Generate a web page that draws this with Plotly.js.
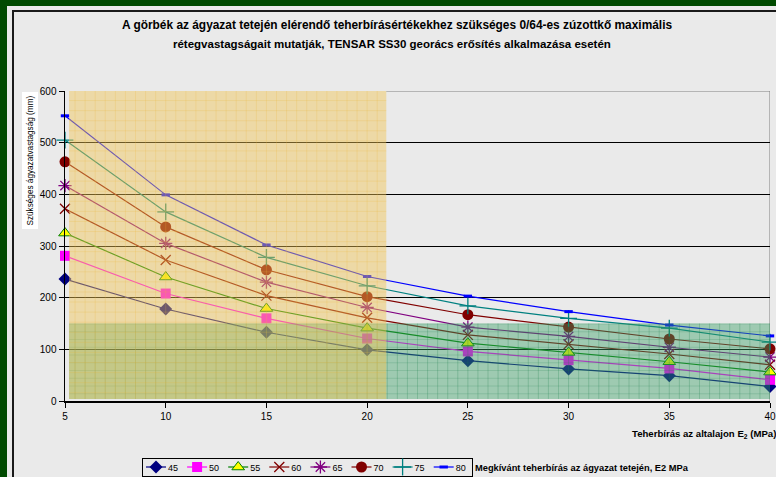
<!DOCTYPE html>
<html>
<head>
<meta charset="utf-8">
<script src="https://cdn.plot.ly/plotly-3.0.1.min.js"></script>
<style>
  html, body { margin:0; padding:0; width:776px; height:477px; overflow:hidden; background:#004a00; }
  #frame { position:absolute; left:7px; top:6px; width:900px; height:600px; background:#eaeaea; }
  #border { position:absolute; left:12px; top:10px; width:900px; height:600px; border:2px solid #1a1a1a; box-sizing:border-box; }
  #chart { position:absolute; left:0; top:0; width:776px; height:477px; }
</style>
</head>
<body>
<div id="frame"></div>
<div id="border"></div>
<div id="chart"></div>
<script>
// ---- data ----
const xValues = [5, 10, 15, 20, 25, 30, 35, 40];
const seriesNames = ['45', '50', '55', '60', '65', '70', '75', '80'];
const s45 = [236, 178, 133, 99, 78, 62, 49, 28];
const s50 = [281, 208, 160, 121, 96, 79, 63, 41];
const s55 = [325, 240, 179, 141, 112, 94, 76, 56];
const s60 = [372, 273, 204, 161, 128, 110, 91, 70];
const s65 = [417, 305, 230, 181, 143, 125, 104, 85];
const s70 = [463, 337, 254, 202, 167, 143, 120, 101];
const s75 = [505, 366, 278, 223, 184, 160, 141, 114];
const s80 = [552, 399, 302, 241, 203, 173, 147, 126];
const yTickVals = [0, 100, 200, 300, 400, 500, 600];

const FONT = 'Arial, "Liberation Sans", sans-serif';

const styles = [
  {line:'#000080', symbol:'diamond', color:'#000080', size:10, lw:0, lc:'#000080'},
  {line:'#ff00ff', symbol:'square', color:'#ff00ff', size:10, lw:0, lc:'#ff00ff'},
  {line:'#008000', symbol:'triangle-up', color:'#ffff00', size:11, lw:1, lc:'#008000'},
  {line:'#800000', symbol:'x-thin', color:'#800000', size:10, lw:1.3, lc:'#800000'},
  {line:'#800080', symbol:'asterisk', color:'#800080', size:11, lw:1.3, lc:'#800080'},
  {line:'#800000', symbol:'circle', color:'#800000', size:11, lw:0, lc:'#800000'},
  {line:'#008080', symbol:'cross-thin', color:'#008080', size:12, lw:1.3, lc:'#008080'},
  {line:'#0000ff', symbol:'line-ew', color:'#0000ff', size:6, lw:3, lc:'#0000ff'}
];
const allSeries = [s45, s50, s55, s60, s65, s70, s75, s80];

const traces = allSeries.map((ys, i) => ({
  type:'scatter', mode:'lines+markers', x:xValues, y:ys, name:seriesNames[i],
  line:{color:styles[i].line, width:1.2},
  marker:{symbol:styles[i].symbol, color:styles[i].color, size:styles[i].size,
          line:{width:styles[i].lw, color:styles[i].lc}},
  cliponaxis:false
}));

// plot-area pixel helpers for paper coordinates
const L = 65, R = 6, T = 91, B = 76, W = 776, H = 477;
const pw = W - L - R, ph = H - T - B;
const px = p => (p - L) / pw;
const py = p => (H - B - p) / ph;

// shaded zones (orange: x<21, teal: y<150), drawn over the curves semi-transparently
const zoneO = {x0:5.2, x1:20.95, y0:4, y1:600};
const zoneT = {x0:5.2, x1:40.1, y0:4, y1:150};

const shapes = [
  {type:'line', xref:'x', yref:'y', x0:40, x1:40, y0:0, y1:600, line:{color:'#808080', width:1}, layer:'below'},
  {type:'rect', xref:'x', yref:'y', x0:zoneT.x0, x1:zoneT.x1, y0:zoneT.y0, y1:zoneT.y1, fillcolor:'rgb(52,158,98)', opacity:0.42, line:{width:0}, layer:'above'}
];
// teal hatch grid
for (let gx = zoneT.x0 + 0.3; gx < zoneT.x1; gx += 0.5) {
  shapes.push({type:'line', xref:'x', yref:'y', x0:gx, x1:gx, y0:zoneT.y0, y1:zoneT.y1,
               line:{color:'rgba(30,130,80,0.25)', width:1}, layer:'above'});
}
for (let gy = zoneT.y0 + 10; gy < zoneT.y1; gy += 15) {
  shapes.push({type:'line', xref:'x', yref:'y', x0:zoneT.x0, x1:zoneT.x1, y0:gy, y1:gy,
               line:{color:'rgba(30,130,80,0.18)', width:1}, layer:'above'});
}
shapes.push({type:'rect', xref:'x', yref:'y', x0:zoneO.x0, x1:zoneO.x1, y0:zoneO.y0, y1:zoneO.y1, fillcolor:'rgb(242,198,84)', opacity:0.45, line:{width:0}, layer:'above'});
// orange hatch grid
for (let gx = zoneO.x0 + 0.3; gx < zoneO.x1; gx += 0.5) {
  shapes.push({type:'line', xref:'x', yref:'y', x0:gx, x1:gx, y0:zoneO.y0, y1:zoneO.y1,
               line:{color:'rgba(235,180,60,0.22)', width:1}, layer:'above'});
}
for (let gy = zoneO.y0 + 12; gy < zoneO.y1; gy += 19.5) {
  shapes.push({type:'line', xref:'x', yref:'y', x0:zoneO.x0, x1:zoneO.x1, y0:gy, y1:gy,
               line:{color:'rgba(235,180,60,0.22)', width:1}, layer:'above'});
}
shapes.push({type:'line', xref:'x', yref:'y', x0:20.95, x1:40, y0:600, y1:600, line:{color:'#808080', width:1.2}, layer:'above'});

const annotations = [
  {text:'<b>A görbék az ágyazat tetején elérendő teherbírásértékekhez szükséges 0/64-es zúzottkő maximális</b>',
   xref:'paper', yref:'paper', x:px(397), y:py(25), xanchor:'center', yanchor:'middle', showarrow:false,
   font:{family:FONT, size:11.9, color:'#000'}},
  {text:'<b>rétegvastagságait mutatják, TENSAR SS30 georács erősítés alkalmazása esetén</b>',
   xref:'paper', yref:'paper', x:px(392), y:py(44), xanchor:'center', yanchor:'middle', showarrow:false,
   font:{family:FONT, size:11.5, color:'#000'}},
  {text:'Szükséges ágyazatvastagság (mm)', textangle:-90, xref:'paper', yref:'paper',
   x:px(30), y:py(160.5), xanchor:'center', yanchor:'middle', showarrow:false,
   bgcolor:'#ffffff', borderpad:3, font:{family:FONT, size:8.2, color:'#000'}},
  {text:'<b>Teherbírás az altalajon E<sub>2</sub> (MPa)</b>', xref:'paper', yref:'paper',
   x:px(630), y:py(434), xanchor:'left', yanchor:'middle', showarrow:false,
   font:{family:FONT, size:9.6, color:'#000'}},
  {text:'<b>Megkívánt teherbírás az ágyazat tetején, E2 MPa</b>', xref:'paper', yref:'paper',
   x:px(473), y:py(468), xanchor:'left', yanchor:'middle', showarrow:false,
   font:{family:FONT, size:9.3, color:'#000'}}
];

const layout = {
  width:W, height:H,
  margin:{l:L, r:R, t:T, b:B},
  paper_bgcolor:'rgba(0,0,0,0)', plot_bgcolor:'#eaeaea',
  font:{family:FONT, size:10, color:'#000'},
  xaxis:{range:[5,40], tickvals:xValues, ticks:'outside', ticklen:5, tickcolor:'#000',
         showline:true, linecolor:'#000', linewidth:1.5, showgrid:false, zeroline:false,
         tickfont:{family:FONT, size:10, color:'#000'}, fixedrange:true, automargin:false},
  yaxis:{range:[0,600], tickvals:yTickVals, ticks:'outside', ticklen:5, tickcolor:'#000',
         showline:true, linecolor:'#000', linewidth:1.5, showgrid:true, gridcolor:'#000', gridwidth:1,
         zeroline:false, tickfont:{family:FONT, size:10, color:'#000'}, fixedrange:true, automargin:false},
  showlegend:true,
  // placed inside the plot area first (so margins are not expanded), then moved below
  legend:{orientation:'h', x:0.2, xanchor:'left', y:0.9, yanchor:'top',
          bordercolor:'#000', borderwidth:1, bgcolor:'rgba(0,0,0,0)',
          font:{family:FONT, size:9, color:'#000'}, itemclick:false, itemdoubleclick:false},
  shapes:shapes, annotations:annotations
};

Plotly.newPlot('chart', traces, layout, {displayModeBar:false, staticPlot:true}).then(function(gd){
  const leg = gd.querySelector('.legend');
  if (!leg) return;
  const items = leg.querySelectorAll('g.traces');
  items.forEach(function(g, i){
    g.setAttribute('transform', 'translate(' + (3 + i*41.1) + ',9)');
    g.querySelectorAll('path.js-line').forEach(p => p.setAttribute('d', 'M1,0h20'));
    g.querySelectorAll('.legendpoints path').forEach(p => p.setAttribute('transform', 'translate(11,0)'));
    const t = g.querySelector('text.legendtext');
    if (t) t.setAttribute('x', 23);
  });
  const bg = leg.querySelector('rect.bg');
  if (bg) { bg.setAttribute('width', 330); bg.setAttribute('height', 18); }
  const clip = leg.querySelector('.scrollbox');
  if (clip) clip.removeAttribute('clip-path');
  leg.setAttribute('transform', 'translate(142,458)');
});
</script>
</body>
</html>
